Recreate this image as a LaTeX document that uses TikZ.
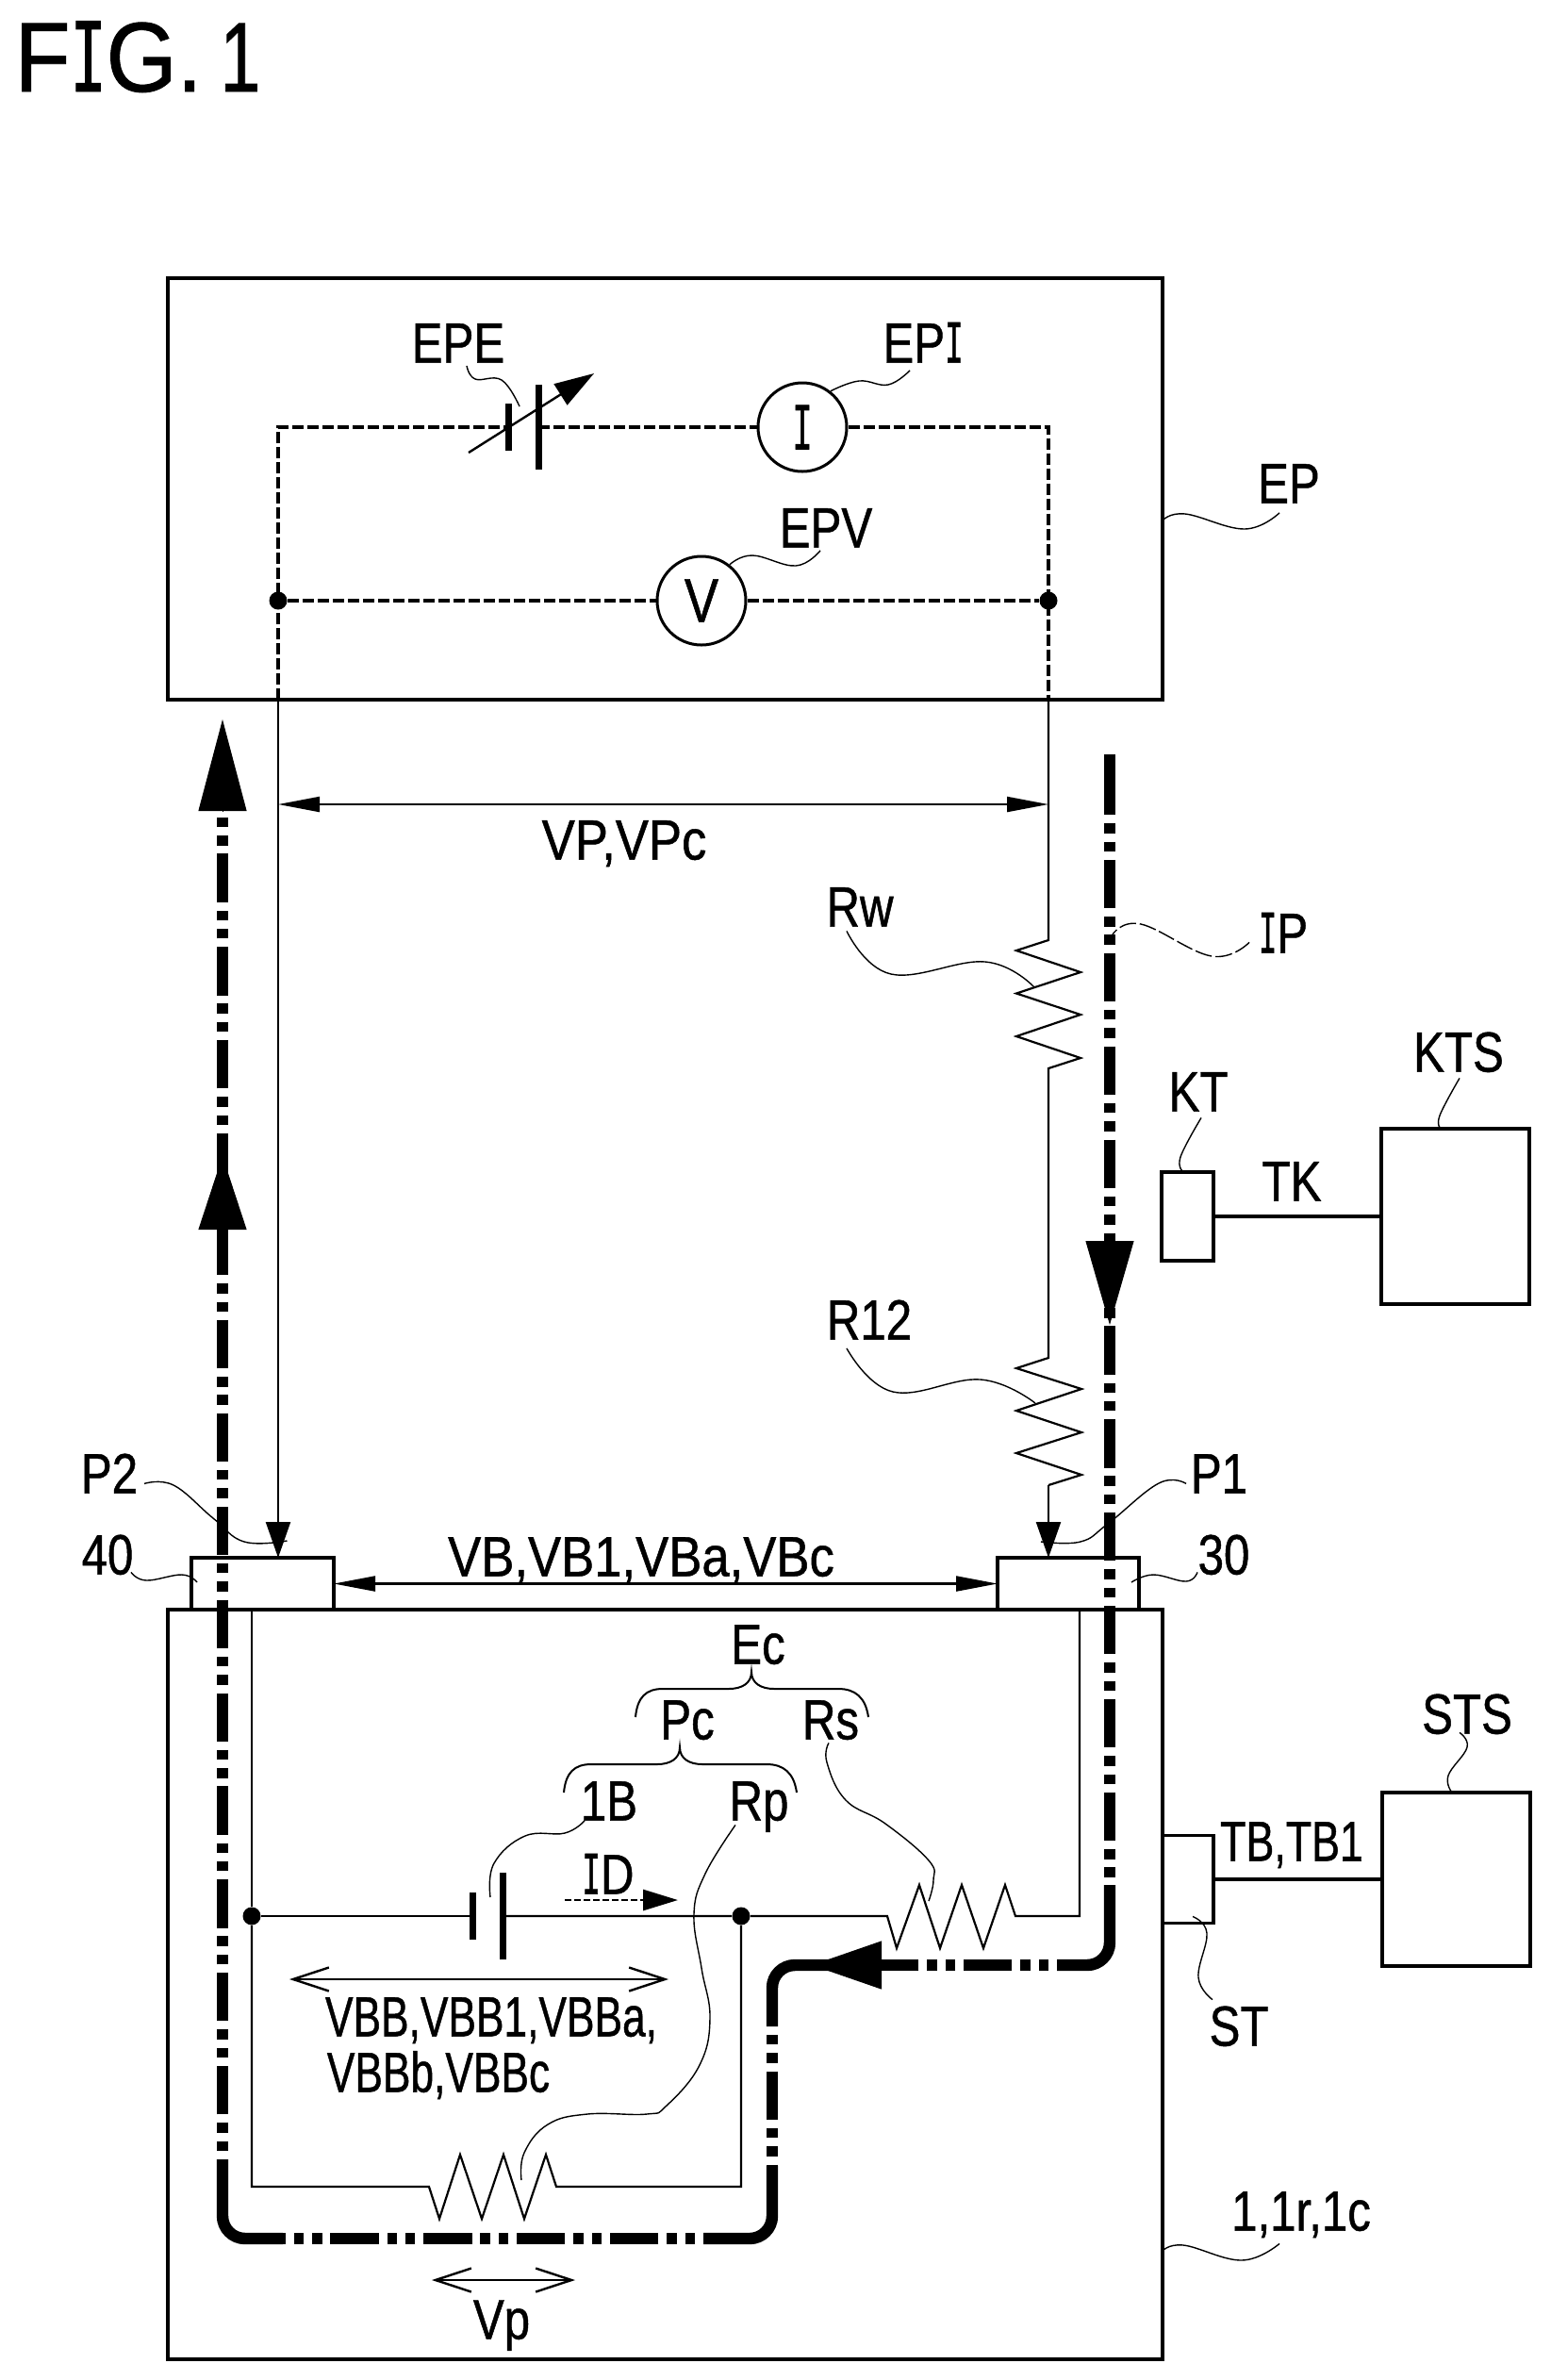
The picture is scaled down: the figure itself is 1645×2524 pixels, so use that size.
\documentclass[tikz,border=0pt]{standalone}
\usepackage{fontspec}
\setmainfont[FakeStretch=0.82,FakeBold=0.8]{Liberation Sans}
\newfontfamily\serI[FakeStretch=0.5,Scale=1.08,FakeBold=0.8]{Liberation Mono}
\newcommand{\Iser}{{\serI I}}
\usetikzlibrary{arrows.meta}
\tikzset{
    box/.style={draw,line width=1.9pt,inner sep=0pt,outer sep=0pt},
    lbl/.style={inner sep=0pt,font=\fontsize{30}{36}\selectfont,text height=21.5pt,text depth=0pt},
    meter/.style={circle,draw,line width=1.5pt,inner sep=0pt,minimum size=47pt,font=\fontsize{33}{36}\selectfont},
    dot/.style={circle,fill=black,inner sep=0pt,minimum size=9.5pt},
    wire/.style={line width=1.1pt},
    dashwire/.style={line width=1.7pt,dash pattern=on 6.2pt off 1.8pt},
    heavy/.style={line width=2pt},
    plate/.style={line width=3.5pt},
    leader/.style={line width=0.7pt},
    gauge/.style={line width=1.1pt,{Triangle[length=22pt,width=8pt]}-{Triangle[length=22pt,width=8pt]}},
    span/.style={line width=1.2pt,{Straight Barb[length=19pt,width=12.5pt]}-{Straight Barb[length=19pt,width=12.5pt]}},
    flowsolid/.style={line width=6.2pt,rounded corners=12pt},
    flow/.style={line width=6.2pt,dash pattern=on 25.6pt off 4.45pt on 5.25pt off 4.45pt on 5.25pt off 4.45pt},
    flowgap/.style={flow,dash phase=25.6pt},
    bigtip/.style={line width=0.5pt,-{Triangle[length=#1,width=25.5pt]}},
    probetip/.style={wire,-{Triangle[length=19pt,width=13pt]}}
}

\begin{document}
\begin{tikzpicture}[x=0.5pt,y=-0.5pt]
    \useasboundingbox (0,0) rectangle (1645,2524);
    \node[lbl,font=\fontsize{52.5}{60}\selectfont,text height=37.5pt] (nFIG) at (146,59.5) {\scalebox{1.12}[1]{F\Iser G.\hspace{-3.5pt} \scalebox{0.8}[1]{1}}};

    % Power supply
    \node[box,minimum width=527.5pt,minimum height=223.5pt] (EPb) at (705.5,518.5) {};
    \node[meter] (nI) at (851,453) {\serI I};
    \node[meter] (nV) at (744,637) {V};
    \node[dot] (dotL) at (295,637) {};
    \node[dot] (dotR) at (1112,637) {};
    \coordinate (upL) at (295,453);
    \coordinate (upR) at (1112,453);
    \coordinate (epeS) at (539,453);
    \coordinate (epeT) at (571,453);
    \coordinate (epeA) at (497,480);
    \coordinate (epeB) at (630,396);
    \coordinate (botL) at (upL |- EPb.south);
    \coordinate (botR) at (upR |- EPb.south);
    \draw[dashwire] (botL) -- (upL) -- (epeS);
    \draw[dashwire] (epeT) -- (nI) -- (upR) -- (botR);
    \draw[dashwire] (dotL) -- (nV) -- (dotR);
    \draw[plate] (epeS) ++(0,-25) -- ++(0,50);
    \draw[plate] (epeT) ++(0,-45) -- ++(0,90);
    \draw[line width=1.2pt,-{Triangle[length=21pt,width=13pt]}] (epeA) -- (epeB);

    % Battery and terminals
    \node[box,minimum width=527.5pt,minimum height=397.5pt] (cell) at (705.5,2104.5) {};
    \node[box,minimum width=75.5pt,minimum height=27.5pt] (t40) at (278.5,1679.5) {};
    \node[box,minimum width=75pt,minimum height=27.5pt] (t30) at (1133,1679.5) {};
    \node[box,minimum width=27pt,minimum height=46.5pt] (STb) at (1260,1993) {};
    \node[box,minimum width=78.5pt,minimum height=92pt] (STSb) at (1544.5,1993) {};
    \node[box,minimum width=27.5pt,minimum height=47pt] (KTb) at (1259.5,1290) {};
    \node[box,minimum width=78.5pt,minimum height=93pt] (KTSb) at (1543.5,1290) {};
    \draw[heavy] (STb) -- (STSb);
    \draw[heavy] (KTb) -- (KTSb);

    % Probe wires
    \coordinate (tipL) at (botL |- t40.north);
    \coordinate (tipR) at (botR |- t30.north);
    \coordinate (rwT) at (1112,997);
    \coordinate (rwB) at (1112,1133);
    \coordinate (r12T) at (1112,1440);
    \coordinate (r12B) at (1112,1575);
    \draw[probetip] (botL) -- (tipL);
    \draw[wire] (botR) -- (rwT) -- ++(-34,11) -- ++(68,23) -- ++(-68,22.5) -- ++(68,22.5) -- ++(-68,23) -- ++(68,23) -- (rwB) -- (r12T)
        -- ++(-34,11) -- ++(69,22) -- ++(-69,23) -- ++(69,23) -- ++(-69,22) -- ++(69,23) -- (r12B);
    \draw[probetip] (r12B) -- (tipR);

    % Equivalent circuit
    \node[dot] (dotA) at (267,2032) {};
    \node[dot] (dotB) at (786,2032) {};
    \coordinate (batS) at (501,2032);
    \coordinate (batT) at (533,2032);
    \coordinate (rsA) at (941,2032);
    \coordinate (rsB) at (1077,2032);
    \coordinate (rpA) at (455,2319);
    \coordinate (rpB) at (590,2319);
    \coordinate (inL) at (267,1707);
    \coordinate (inR) at (1145,1707);
    \draw[wire] (inL) -- (dotA) -- (batS);
    \draw[wire] (batT) -- (dotB) -- (rsA) -- ++(10,34) -- ++(24,-67) -- ++(22,67) -- ++(23,-67) -- ++(23,67) -- ++(23,-67) -- (rsB) -| (inR);
    \draw[wire] (dotA) |- (rpA) -- ++(11,34) -- ++(22,-68) -- ++(23,68) -- ++(23,-68) -- ++(22,68) -- ++(23,-68) -- (rpB) -| (dotB);
    \draw[plate] (batS) ++(0,-25) -- ++(0,50);
    \draw[plate] (batT) ++(0,-46) -- ++(0,92);

    % Current path, the corners are solid
    \coordinate (flowT) at (1177,800);
    \coordinate (flowR) at (1177,813);
    \coordinate (flowA) at (1177,1999);
    \coordinate (cornA) at (1177,2084);
    \coordinate (flowB) at (1121,2084);
    \coordinate (flowC) at (935,2084);
    \coordinate (cornB) at (819,2084);
    \coordinate (flowD) at (819,2149);
    \coordinate (flowE) at (819,2297);
    \coordinate (cornC) at (819,2374);
    \coordinate (flowF) at (746,2374);
    \coordinate (flowG) at (300,2374);
    \coordinate (cornD) at (236,2374);
    \coordinate (flowH) at (236,2290);
    \coordinate (flowL) at (236,860);
    \draw[flowsolid] (flowT) -- (flowR);
    \draw[flow] (flowR) -- (flowA);
    \draw[flowsolid] (flowA) -- (cornA) -- (flowB);
    \draw[flowgap] (flowB) -- (flowC);
    \draw[flowsolid] (flowC) -- (cornB) -- (flowD);
    \draw[flowgap] (flowD) -- (flowE);
    \draw[flowsolid] (flowE) -- (cornC) -- (flowF);
    \draw[flowgap] (flowF) -- (flowG);
    \draw[flowsolid] (flowG) -- (cornD) -- (flowH);
    \draw[flowgap] (flowH) -- (flowL);
    \coordinate (tipA) at (236,763);
    \coordinate (tipB) at (236,1226);
    \coordinate (tipC) at (1177,1405);
    \coordinate (tipD) at (861,2084);
    \draw[bigtip=48.5pt] (flowL) -- (tipA);
    \draw[bigtip=39pt] (236,1304) -- (tipB);
    \draw[bigtip=44.5pt] (1177,1316) -- (tipC);
    \draw[bigtip=37pt] (935,2084) -- (tipD);

    % Voltages
    \coordinate (vpL) at (295,853);
    \coordinate (vpR) at (1112,853);
    \draw[gauge] (vpL) -- (vpR);
    \draw[gauge] (t40.east) -- (t30.west);
    \coordinate (vbbL) at (307,2099);
    \coordinate (vbbR) at (709,2099);
    \draw[span] (vbbL) -- (vbbR);
    \coordinate (vpoL) at (458,2418);
    \coordinate (vpoR) at (610,2418);
    \draw[span] (vpoL) -- (vpoR);
    \coordinate (idA) at (599,2015);
    \coordinate (idB) at (719,2015);
    \draw[line width=1.4pt,dash pattern=on 3.5pt off 1.5pt,-{Triangle[length=18.5pt,width=11pt]}] (idA) -- (idB);

    % Labels
    \node[lbl] (nEPE) at (486,363) {EPE};
    \node[lbl] (nEPI) at (979,363) {EP\Iser};
    \node[lbl] (nEPV) at (876,559) {EPV};
    \node[lbl] (nEP) at (1367,512) {EP};
    \node[lbl] (nVP) at (662,890) {\scalebox{1.07}[1]{VP,VPc}};
    \node[lbl] (nRw) at (912,961) {Rw};
    \node[lbl] (nIP) at (1361,989) {\Iser P};
    \node[lbl] (nKT) at (1271,1157) {KT};
    \node[lbl] (nKTS) at (1547,1115) {KTS};
    \node[lbl] (nTK) at (1370,1252) {TK};
    \node[lbl] (nR12) at (922,1399) {R12};
    \node[lbl] (nP2) at (116,1562) {P2};
    \node[lbl] (nP1) at (1293,1562) {P1};
    \node[lbl] (n40) at (114,1648) {40};
    \node[lbl] (n30) at (1298,1648) {30};
    \node[lbl] (nVB) at (680,1650) {\scalebox{1.07}[1]{VB,VB1,VBa,VBc}};
    \node[lbl] (nEc) at (804,1743) {Ec};
    \node[lbl] (nPc) at (729,1823) {Pc};
    \node[lbl] (nRs) at (881,1823) {Rs};
    \node[lbl] (n1B) at (646,1909) {1B};
    \node[lbl] (nRp) at (805,1909) {Rp};
    \node[lbl] (nID) at (645,1987) {\Iser D};
    \node[lbl] (nVBBa) at (521,2138) {\scalebox{0.9}[1]{VBB,VBB1,VBBa,}};
    \node[lbl] (nVBBb) at (465,2197) {\scalebox{0.9}[1]{VBBb,VBBc}};
    \node[lbl] (nVp) at (532,2459) {Vp};
    \node[lbl] (nSTS) at (1556,1817) {STS};
    \node[lbl] (nTB) at (1370,1952) {\scalebox{0.91}[1]{TB,TB1}};
    \node[lbl] (nST) at (1314,2148) {ST};
    \node[lbl] (nC) at (1380,2344) {1,1r,1c};

    % Braces
    \coordinate (EcB) at (797,1773);
    \coordinate (PcB) at (721,1853);
    \foreach \c in {EcB,PcB} {
        \draw[line width=1pt,shift={(\c)}] (-123,48) .. controls (-121,27) and (-112,18) .. (-94,18) -- (-24,18)
            .. controls (-10,18) and (0,12) .. (0,0) .. controls (0,12) and (10,18) .. (24,18) -- (92,18)
            .. controls (110,18) and (121,27) .. (124,48);
    }

    % Leaders
    \draw[leader] plot[smooth,tension=0.7] coordinates {([shift={(9,3)}]nEPE.south) (504,402) (532,403) ([shift={(12,-22)}]epeS)};
    \draw[leader] plot[smooth,tension=0.7] coordinates {([shift={(-14,8)}]nEPI.south) (942,408) (911,404) (nI.52)};
    \draw[leader] plot[smooth,tension=0.7] coordinates {([shift={(-6,3)}]nEPV.south) (844,600) (798,589) (nV.52)};
    \draw[leader] plot[smooth,tension=0.7] coordinates {([shift={(-10,10)}]nEP.south) (1320,561) (1257,545) ([shift={(0,33.5)}]EPb.east)};
    \draw[leader] plot[smooth,tension=0.7] coordinates {([shift={(-14,4.5)}]nRw.south) (945,1033) (1045,1020) ([shift={(-15,50)}]rwT)};
    \draw[leader,dash pattern=on 9pt off 2pt] plot[smooth,tension=0.7] coordinates {([shift={(-36,-11.5)}]nIP.south) (1285,1014) (1210,980) ([shift={(3,178)}]flowR)};
    \draw[leader] plot[smooth,tension=0.7] coordinates {([shift={(3,6.5)}]nKT.south) (1252,1227) ([shift={(-4.5,0)}]KTb.north)};
    \draw[leader] plot[smooth,tension=0.7] coordinates {([shift={(1,6.5)}]nKTS.south) (1527,1183) ([shift={(-15.5,0)}]KTSb.north)};
    \draw[leader] plot[smooth,tension=0.7] coordinates {([shift={(-24,9)}]nR12.south) (947,1476) (1040,1463) ([shift={(-14,48)}]r12T)};
    \draw[leader] plot[smooth,tension=0.7] coordinates {([shift={(37,-10.5)}]nP2.south) (184,1575) (226,1610) (259,1635) ([shift={(9.5,-18)}]tipL)};
    \draw[leader] plot[smooth,tension=0.7] coordinates {([shift={(-35,-10.5)}]nP1.south) (1229,1573) (1175,1616) (1146,1635) ([shift={(-8,-17)}]tipR)};
    \draw[leader] plot[smooth,tension=0.7] coordinates {([shift={(25,-2.5)}]n40.south) (155,1676) (193,1670) ([shift={(6,-1.5)}]t40.west)};
    \draw[leader] plot[smooth,tension=0.7] coordinates {([shift={(-28,-2.5)}]n30.south) (1258,1677) (1223,1670) ([shift={(-8,-1.5)}]t30.east)};
    \draw[leader] plot[smooth,tension=0.7] coordinates {([shift={(-2,3.5)}]nRs.south) (877,1869) (897,1909) (939,1934) (985,1973) (990,1994) ([shift={(44,-16)}]rsA)};
    \draw[leader] plot[smooth,tension=0.7] coordinates {([shift={(-25,4.5)}]nRp.south) (748,1987) (736,2030) (744,2087) (753,2140) (742,2190) (707,2233) (686,2242) (623,2242) (581,2253) (556,2283) ([shift={(98,-7)}]rpA)};
    \draw[leader] plot[smooth,tension=0.7] coordinates {([shift={(-26,0)}]n1B.south) (599,1944) (557,1947) (524,1976) ([shift={(19,-20)}]batS)};
    \draw[leader] plot[smooth,tension=0.7] coordinates {([shift={(-8,-1.5)}]nSTS.south) (1556,1853) (1536,1883) ([shift={(-4.5,0)}]STSb.north)};
    \draw[leader] plot[smooth,tension=0.7] coordinates {([shift={(-28,-5.5)}]nST.north) (1271,2097) (1280,2050) ([shift={(5,-7)}]STb.south)};
    \draw[leader] plot[smooth,tension=0.7] coordinates {([shift={(-23,13.5)}]nC.south) (1317,2397) (1255,2381) ([shift={(-1,283.5)}]cell.east)};
\end{tikzpicture}
\end{document}
